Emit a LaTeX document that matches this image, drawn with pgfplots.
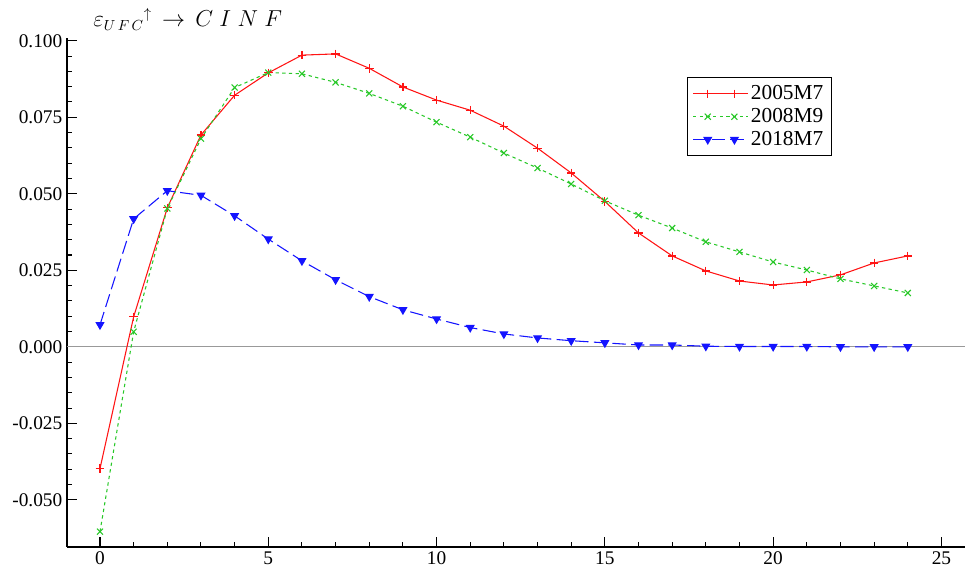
\documentclass[border=0pt]{standalone}
\usepackage{fontspec}
\setmainfont{Liberation Serif}
\usepackage{pgfplots}
\pgfplotsset{compat=1.18}
\usetikzlibrary{plotmarks}

\definecolor{cred}{RGB}{255,20,20}
\definecolor{cgreen}{RGB}{40,200,40}
\definecolor{cblue}{RGB}{20,20,255}

\begin{document}
\begin{tikzpicture}
\begin{axis}[
  at={(0,0)}, anchor=south west,
  scale only axis,
  width=673.5pt, height=381.75pt,
  xmin=-0.98, xmax=25.7,
  ymin=-0.0654, ymax=0.1009,
  axis x line*=bottom, axis y line*=left,
  xtick={0,5,10,15,20,25},
  minor x tick num=4,
  ytick={-0.05,-0.025,0,0.025,0.05,0.075,0.1},
  minor y tick num=4,
  major tick length=7.5pt, minor tick length=3.75pt,
  tick align=inside,
  tick style={black, line width=0.8pt},
  axis line style={black, line width=0.9pt},
  yticklabel style={/pgf/number format/fixed, /pgf/number format/fixed zerofill,
    /pgf/number format/precision=3},
  scaled y ticks=false,
  /pgf/number format/assume math mode=true,
  ticklabel style={font=\fontsize{14.5}{17}\selectfont},
  legend style={at={(0.690,0.923)}, anchor=north west, draw=black, line width=0.9pt,
    font=\fontsize{16}{17}\selectfont, row sep=1pt, inner xsep=4pt, inner ysep=4pt},
  legend cell align=left,
  legend image code/.code={\draw[#1, mark indices={2,3}] plot coordinates {(0pt,0pt) (11pt,0pt) (31pt,0pt) (41pt,0pt)};},
  clip=false,
]
\draw[gray!80, line width=0.8pt] (axis cs:-0.98,0) -- (axis cs:25.7,0);

\addplot[cred, line width=0.8pt, mark=+, mark size=3.2pt, mark options={solid, cred, line width=0.9pt}] coordinates {
(0,-0.0398) (1,0.0098) (2,0.0454) (3,0.0692) (4,0.0822) (5,0.0895)
(6,0.0953) (7,0.0957) (8,0.0910) (9,0.0849) (10,0.0806) (11,0.0773)
(12,0.0721) (13,0.0649) (14,0.0568) (15,0.0475) (16,0.0372) (17,0.0297)
(18,0.0248) (19,0.0215) (20,0.0202) (21,0.0212) (22,0.0235) (23,0.0274) (24,0.0297)
};
\addlegendentry{2005M7}

\addplot[cgreen, line width=0.8pt, dash pattern=on 2.5pt off 2.5pt, mark=x, mark size=3.2pt, mark options={solid, cgreen, line width=0.8pt}] coordinates {
(0,-0.0604) (1,0.0049) (2,0.0452) (3,0.0680) (4,0.0847) (5,0.0896)
(6,0.0892) (7,0.0864) (8,0.0828) (9,0.0786) (10,0.0734) (11,0.0685)
(12,0.0633) (13,0.0584) (14,0.0532) (15,0.0477) (16,0.0430) (17,0.0388)
(18,0.0343) (19,0.0310) (20,0.0277) (21,0.0251) (22,0.0222) (23,0.0199) (24,0.0176)
};
\addlegendentry{2008M9}

\addplot[cblue, line width=0.8pt, dash pattern=on 10pt off 4pt, mark=triangle*, mark size=3.2pt, mark options={solid, cblue, rotate=180}] coordinates {
(0,0.0072) (1,0.0418) (2,0.0510) (3,0.0495) (4,0.0428) (5,0.0352)
(6,0.0281) (7,0.0219) (8,0.0164) (9,0.0121) (10,0.0091) (11,0.0063)
(12,0.0042) (13,0.0029) (14,0.0020) (15,0.0013) (16,0.0006) (17,0.0006)
(18,0.0002) (19,0.0001) (20,0.0001) (21,0.0001) (22,0.0000) (23,0.0000) (24,0.0000)
};
\addlegendentry{2018M7}
\end{axis}
\node[anchor=base west, inner sep=0pt, font=\fontsize{16}{18}\selectfont] at (19.5pt,390pt)
  {$\varepsilon_{U\,F\,C}{}^{\uparrow}\,\rightarrow\, C\;I\;N\;F$};
\pgfresetboundingbox
\path (-50.25pt,-17.25pt) rectangle (675pt,410.25pt);
\end{tikzpicture}
\end{document}
